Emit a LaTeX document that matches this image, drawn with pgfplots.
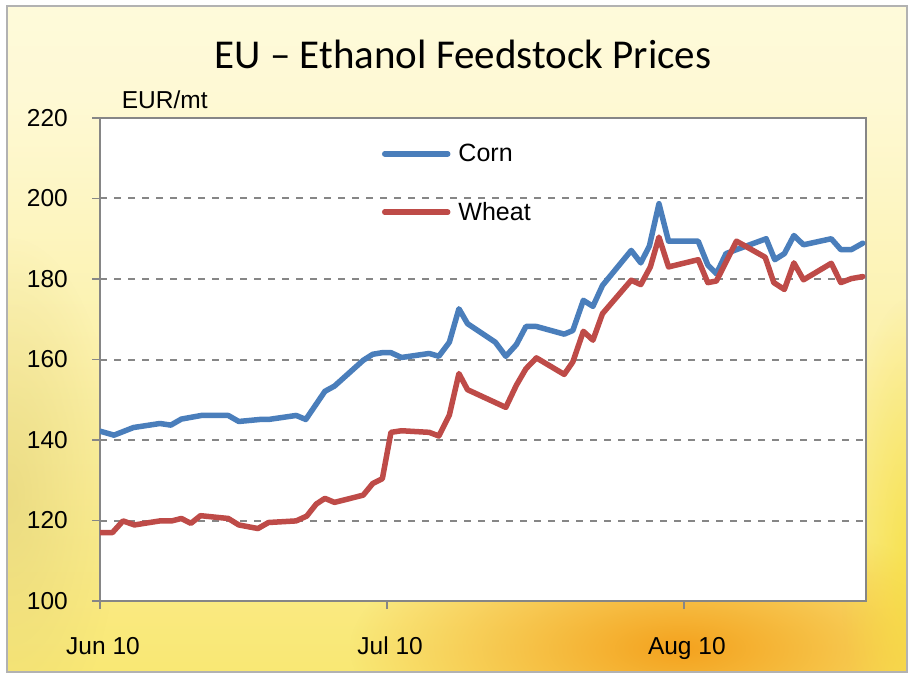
\documentclass[border=0pt]{standalone}
\usepackage{fontspec}
\setmainfont{Liberation Sans}
\newfontfamily\titlefont{Carlito}
\usepackage{pgfplots}
\pgfplotsset{compat=1.18}
\usetikzlibrary{fadings}
\definecolor{corn}{HTML}{4A7EBB}
\definecolor{wheat}{HTML}{BE4B48}
\definecolor{axgray}{HTML}{868686}
\definecolor{glow}{HTML}{F4A21E}
\definecolor{khaki}{HTML}{E2D27A}
\definecolor{bgA}{HTML}{F6DE38}
\definecolor{bgB}{HTML}{F8E45C}
\definecolor{bgC}{HTML}{FBEE9C}
\definecolor{bgD}{HTML}{FEF9D4}
\definecolor{bgE}{HTML}{FFFDF0}
\pgfdeclareverticalshading{bgshade}{100bp}{color(0bp)=(bgA); color(15bp)=(bgB); color(42bp)=(bgC); color(68bp)=(bgD); color(100bp)=(bgE)}
\tikzfading[name=glowfade, inner color=transparent!0, outer color=transparent!100]

\begin{document}
\begin{tikzpicture}[x=1pt,y=1pt]
\fill[white] (0,0) rectangle (913,678);
\shade[shading=bgshade] (7,6) rectangle (907,672);
\begin{scope}
\clip (7,6) rectangle (907,672);
\fill[glow, path fading=glowfade, opacity=1] (680,30) ellipse (330 and 130);
\fill[khaki, path fading=glowfade, opacity=0.6] (10,180) ellipse (110 and 260);
\fill[bgA, path fading=glowfade, opacity=0.7] (910,120) ellipse (70 and 260);
\end{scope}
\draw[line width=2.5pt, draw=gray!60] (7,6) rectangle (907,672);

\node[font=\titlefont\fontsize{41}{48}\selectfont, anchor=base, inner sep=0pt] at (463,609.7) {EU – Ethanol Feedstock Prices};
\node[font=\fontsize{24.5}{28}\selectfont, anchor=base west, inner sep=0pt] at (121.7,569.7) {EUR/mt};

\begin{axis}[
  at={(100pt,77pt)}, anchor=south west,
  width=765.7pt, height=483pt, scale only axis,
  xmin=0, xmax=80, ymin=100, ymax=220,
  ytick={100,120,...,220},
  xtick={0,30,61}, xticklabels={Jun 10,Jul 10,Aug 10},
  axis background/.style={fill=white},
  axis line style={draw=axgray, line width=1.8pt},
  tick style={draw=axgray, line width=1.5pt},
  tick align=outside, major tick length=8pt,
  xtick pos=left, ytick pos=left,
  ymajorgrids,
  grid style={draw=axgray, line width=2pt, dash pattern=on 6.5pt off 7.5pt},
  /pgf/number format/assume math mode=true,
  tick label style={font=\fontsize{24.5}{28}\selectfont, text=black},
  yticklabel style={inner sep=0pt, xshift=-24pt},
  xticklabel style={inner sep=0pt, yshift=-28pt, xshift=3pt},
  legend style={draw=none, fill=none, font=\fontsize{25}{28}\selectfont,
    at={(axis description cs:0.368,0.950)}, anchor=north west,
    row sep=35pt, inner sep=0pt, nodes={inner sep=2pt}},
  legend cell align=left,
  legend image code/.code={\draw[#1, line cap=round] (0pt,0pt) -- (63pt,0pt); \path (69pt,0pt);},
  every axis plot/.append style={line width=5.5pt, line join=round, line cap=round},
]
\addplot[corn] coordinates {
(0,142.2) (1.46,141.2) (3.5,143.1) (6.26,144.1) (7.4,143.7) (8.5,145.2) (10.6,146.1) (13.4,146.1) (14.5,144.6) (16.7,145.1) (17.6,145.1) (20.5,146.1) (21.5,145.1) (23.5,152.1) (24.5,153.4) (27.5,159.8) (28.5,161.3) (29.5,161.7) (30.4,161.7) (31.5,160.5) (34.4,161.5) (35.4,160.8) (36.5,164.3) (37.5,172.6) (38.4,168.9) (41.3,164.3) (42.4,160.8) (43.5,163.7) (44.5,168.2) (45.6,168.2) (48.5,166.3) (49.4,167.2) (50.5,174.7) (51.5,173.2) (52.5,178.4) (55.5,187.1) (56.5,184.0) (57.4,188.2) (58.4,198.7) (59.4,189.4) (62.5,189.4) (63.5,183.5) (64.4,181.3) (65.4,186.3) (66.5,187.3) (69.6,190.0) (70.5,184.8) (71.5,186.3) (72.5,190.8) (73.5,188.5) (76.4,190.0) (77.4,187.3) (78.5,187.3) (79.7,188.9)
};
\addlegendentry{Corn}
\addplot[wheat] coordinates {
(0,117.0) (1.3,117.0) (2.4,119.9) (3.6,118.9) (6.26,119.9) (7.5,119.9) (8.5,120.5) (9.5,119.3) (10.5,121.2) (13.4,120.5) (14.5,118.9) (16.5,118.0) (17.6,119.5) (20.5,119.9) (21.6,121.1) (22.6,124.1) (23.5,125.5) (24.5,124.5) (27.5,126.3) (28.5,129.2) (29.5,130.4) (30.4,141.9) (31.5,142.3) (34.4,141.9) (35.4,141.0) (36.5,146.2) (37.5,156.5) (38.4,152.5) (42.4,148.1) (43.5,153.6) (44.5,157.7) (45.6,160.4) (48.5,156.3) (49.4,159.4) (50.5,167.0) (51.5,164.8) (52.5,171.4) (55.5,179.7) (56.5,178.6) (57.5,183.0) (58.4,190.4) (59.4,183.0) (62.5,184.8) (63.5,179.1) (64.4,179.5) (66.5,189.4) (69.5,185.4) (70.4,179.1) (71.5,177.4) (72.5,184.0) (73.5,179.8) (76.4,183.9) (77.4,179.1) (78.5,180.1) (79.7,180.6)
};
\addlegendentry{Wheat}
\end{axis}
\end{tikzpicture}
\end{document}
